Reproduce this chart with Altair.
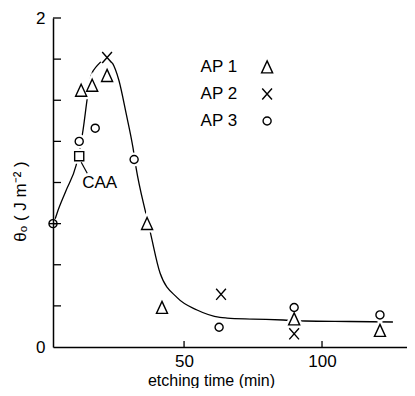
import altair as alt
import pandas as pd

# ---- data ----
series_names = ["AP 1", "AP 2", "AP 3"]
legend_rows = [0, 1, 2]
ap1_t = [12.7, 16.7, 22.1, 36.6, 42.0, 89.9, 121.0]
ap1_v = [1.56, 1.59, 1.65, 0.75, 0.24, 0.17, 0.10]
ap2_t = [22.1, 63.4, 89.9]
ap2_v = [1.76, 0.32, 0.08]
ap3_t = [12.0, 17.8, 31.9, 62.7, 89.9, 121.0]
ap3_v = [1.25, 1.33, 1.14, 0.12, 0.24, 0.195]
caa_t = [12.0]
caa_v = [1.16]
caa_label = ["CAA"]
start_t = [2.5]
start_v = [0.75]

curve_t = [3.3, 4.0, 7.2, 10.9, 12.3, 13.4, 14.9, 15.6, 16.3, 18.5, 20.7, 22.1,
           23.9, 26.4, 29.0, 31.5, 32.6, 35.9, 37.0, 38.0, 41.3, 47.5, 54.7,
           63.0, 65.6, 75.0, 85.9, 93.8, 110.0, 125.7]
curve_v = [0.78, 0.815, 0.95, 1.106, 1.21, 1.32, 1.51, 1.59, 1.65, 1.71, 1.745,
           1.757, 1.73, 1.62, 1.42, 1.21, 1.09, 0.83, 0.754, 0.68, 0.45, 0.30,
           0.225, 0.18, 0.176, 0.17, 0.164, 0.158, 0.155, 0.152]

x_tick_values = [50, 100]
y_tick_values = [0.25, 0.5, 0.75, 1.0, 1.25, 1.5, 1.75, 2.0]
y_label_values = [0, 1, 2]

# ---- tables ----
pts = pd.DataFrame({
    "t": ap1_t + ap2_t + ap3_t + caa_t,
    "v": ap1_v + ap2_v + ap3_v + caa_v,
    "s": ["AP 1"] * len(ap1_t) + ["AP 2"] * len(ap2_t) + ["AP 3"] * len(ap3_t) + ["CAA"] * len(caa_t),
})
curve = pd.DataFrame({"t": curve_t, "v": curve_v})
start = pd.DataFrame({"t": start_t, "v": start_v})
caa = pd.DataFrame({"t": caa_t, "v": caa_v, "label": caa_label})
xt = pd.DataFrame({"t": x_tick_values})
yt = pd.DataFrame({"v": y_tick_values})
leg = pd.DataFrame({"s": series_names, "row": legend_rows})

W, H = 354, 329
FONT = "Liberation Sans"
FS = 17

TRI = "M0,-0.95L0.85,0.9L-0.85,0.9Z"
XP = "M-0.75,-0.85L0.75,0.85M0.75,-0.85L-0.75,0.85"
CIRC = "M0.62,0A0.62,0.62 0 1,1 -0.62,0A0.62,0.62 0 1,1 0.62,0Z"
SQ = "M-0.7,-0.7L0.7,-0.7L0.7,0.7L-0.7,0.7Z"
HBAR = "M-0.62,0L0.62,0"

xscale = alt.Scale(domain=[2.5, 130.8], nice=False, zero=False)
yscale = alt.Scale(domain=[0, 2], nice=False, zero=False)
shape_scale = alt.Scale(domain=series_names + ["CAA"], range=[TRI, XP, CIRC, SQ])

X = alt.X("t:Q", scale=xscale, axis=alt.Axis(
    values=x_tick_values, tickSize=0, labelFontSize=FS, labelFont=FONT, labelColor="black",
    labelPadding=6, domainColor="black", domainWidth=1.5, grid=False, format="d",
    title="etching time (min)", titleFont=FONT, titleFontSize=16, titleFontWeight="normal",
    titleColor="black", titleX=158, titleY=41, titleBaseline="bottom", titleAlign="center"))
Y = alt.Y("v:Q", scale=yscale, axis=alt.Axis(
    values=y_label_values, tickSize=0, labelFontSize=FS, labelFont=FONT, labelColor="black",
    labelPadding=8, domainColor="black", domainWidth=1.5, grid=False, format="d",
    title="θₒ ( J m⁻² )", titleFont=FONT, titleFontSize=FS, titleFontWeight="normal",
    titleColor="black", titleAngle=270, titleX=-24, titleY=183, titleBaseline="bottom",
    titleAlign="center"))
SHAPE = alt.Shape("s:N", scale=shape_scale, legend=None)

ytick_layer = alt.Chart(yt).mark_rule(color="black", strokeWidth=1.3).encode(
    y=Y, x=alt.value(0), x2=alt.value(8))
xtick_layer = alt.Chart(xt).mark_rule(color="black", strokeWidth=1.3).encode(
    x=X, y=alt.value(H), y2=alt.value(H - 6))

line_layer = alt.Chart(curve).mark_line(color="black", strokeWidth=1.3, interpolate="monotone").encode(
    x=X, y=Y)

halo_layer = alt.Chart(pts).mark_point(filled=True, fill="white", stroke="white", strokeWidth=6,
                                       size=169, opacity=1).encode(x=X, y=Y, shape=SHAPE)

point_layer = alt.Chart(pts).mark_point(filled=True, fill="white", stroke="black", strokeWidth=1.4,
                                        size=169, opacity=1).encode(x=X, y=Y, shape=SHAPE)

start_circle = alt.Chart(start).mark_point(shape=CIRC, size=169, filled=False, stroke="black",
                                           strokeWidth=1.4, opacity=1).encode(x=X, y=Y)
start_bar = alt.Chart(start).mark_point(shape=HBAR, size=169, filled=False, stroke="black",
                                        strokeWidth=1.4, opacity=1).encode(x=X, y=Y)

caa_text = alt.Chart(caa).mark_text(align="left", baseline="middle", dx=3, dy=27, font=FONT,
                                    fontSize=FS, color="black").encode(x=X, y=Y, text="label:N")
caa_lead = alt.Chart(caa).mark_rule(color="black", strokeWidth=1.2, xOffset=2, yOffset=6,
                                    x2Offset=8, y2Offset=17).encode(
    x=X, y=Y, x2="t:Q", y2="v:Q")

# hand-placed key (symbol to the right of its label, as in the original)
leg_base = alt.Chart(leg).transform_calculate(t="80.1", v="1.702 - datum.row * 0.164")
leg_sym = leg_base.mark_point(filled=True, fill="white", stroke="black", strokeWidth=1.4,
                              size=169, opacity=1).encode(x=X, y=Y, shape=SHAPE)
leg_txt = leg_base.mark_text(align="right", baseline="middle", dx=-30, font=FONT, fontSize=FS,
                             color="black").encode(x=X, y=Y, text="s:N")

chart = alt.layer(
    line_layer, ytick_layer, xtick_layer, halo_layer, point_layer,
    start_circle, start_bar, caa_lead, caa_text, leg_sym, leg_txt
).properties(
    width=W, height=H,
    padding={"left": 45, "top": 10, "right": 0, "bottom": 41},
    autosize=alt.AutoSizeParams(type="none"),
    background="white",
).configure_view(stroke=None)

chart.save("out.html", embed_options={"renderer": "svg", "actions": False})
